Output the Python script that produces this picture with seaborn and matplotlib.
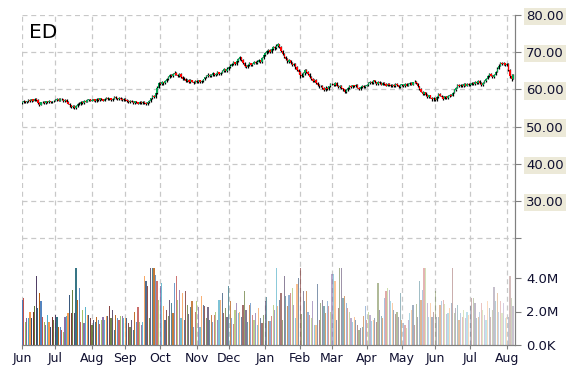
import matplotlib
matplotlib.use('Agg')
import matplotlib.pyplot as plt
import numpy as np
import pandas as pd
import seaborn as sns

# --- data (daily, business days) ---
ticker = 'ED'
start_date = '2014-06-02'
end_date = '2015-08-07'
month_labels = ['Jun', 'Jul', 'Aug', 'Sep', 'Oct', 'Nov', 'Dec', 'Jan',
                'Feb', 'Mar', 'Apr', 'May', 'Jun', 'Jul', 'Aug']
price_ticks = [20, 30, 40, 50, 60, 70, 80]
price_labels = ['', '30.00', '40.00', '50.00', '60.00', '70.00', '80.00']
vol_ticks = [0, 2e6, 4e6]
vol_labels = ['0.0K', '2.0M', '4.0M']

first_open = 56.3
close_jun14 = [56.6, 56.9, 56.5, 56.8, 57.1, 56.9, 57.3, 57.0, 57.5, 57.2, 56.3, 55.9, 56.5,
               56.7, 56.4, 56.8, 56.6, 56.9, 56.5, 56.8, 57.0]
close_jul14 = [57.2, 57.4, 57.0, 57.5, 57.3, 56.9, 57.2, 56.6, 56.2, 55.7, 55.2, 55.5, 54.9,
               55.6, 56.2, 56.0, 56.6, 56.4, 56.9, 56.7, 57.1, 57.3, 57.0]
close_aug14 = [57.0, 57.3, 56.9, 57.4, 57.2, 57.6, 57.3, 57.0, 57.5, 57.8, 57.4, 57.6, 57.2,
               57.5, 57.9, 57.6, 57.3, 57.7, 57.4, 57.2, 57.5]
close_sep14 = [57.2, 56.9, 56.6, 57.0, 56.7, 56.4, 56.8, 56.5, 56.2, 56.6, 56.3, 56.7, 56.4,
               56.1, 56.5, 56.9, 57.6, 58.3, 58.0, 59.0, 60.5, 61.6]
close_oct14 = [61.4, 61.9, 61.6, 62.2, 62.8, 63.3, 63.9, 63.5, 64.1, 64.5, 64.0, 63.6, 64.2,
               63.4, 62.7, 62.9, 62.3, 62.6, 62.0, 62.4, 62.1, 61.8, 62.3]
close_nov14 = [62.0, 62.4, 61.9, 62.3, 62.7, 63.2, 63.6, 64.0, 63.5, 63.9, 64.3, 63.8, 64.2,
               64.6, 64.1, 64.5, 64.9, 65.4, 65.0, 65.6]
close_dec14 = [65.9, 66.4, 66.9, 67.3, 66.8, 67.6, 68.2, 68.6, 67.9, 67.1, 66.3, 66.0, 66.6,
               67.0, 66.5, 66.9, 67.4, 67.0, 67.5, 67.8, 67.3, 68.4, 69.3]
close_jan15 = [69.8, 70.2, 70.6, 70.1, 70.9, 71.4, 71.0, 71.8, 72.1, 71.5, 70.4, 69.6, 68.8,
               68.2, 67.5, 67.8, 67.0, 66.5, 66.9, 65.9, 65.2, 64.6]
close_feb15 = [64.0, 63.6, 64.3, 65.1, 64.7, 64.2, 63.4, 62.8, 62.2, 62.5, 61.8, 61.2, 60.8,
               61.0, 60.4, 59.9, 60.5, 60.2, 60.8, 61.4]
close_mar15 = [61.5, 61.2, 61.7, 61.0, 60.6, 60.9, 60.3, 60.0, 59.4, 59.8, 60.4, 60.9, 60.6,
               61.1, 60.8, 61.2, 60.5, 60.1, 60.6, 60.9, 60.6, 61.0]
close_apr15 = [61.2, 61.7, 62.1, 61.6, 62.4, 61.9, 61.5, 62.0, 61.7, 61.3, 61.8, 61.4, 61.0,
               61.5, 61.2, 60.8, 61.3, 60.9, 61.4, 61.1, 60.7, 61.2]
close_may15 = [61.3, 60.9, 61.4, 61.0, 61.5, 61.8, 61.3, 61.9, 62.1, 61.6, 60.8, 60.1, 59.4,
               58.8, 59.2, 58.5, 58.0, 58.4, 57.8, 57.3, 57.6]
close_jun15 = [57.2, 58.0, 58.8, 58.3, 57.9, 57.5, 58.1, 57.7, 58.2, 58.6, 58.3, 59.1, 59.8,
               60.5, 61.2, 60.8, 61.3, 60.9, 61.4, 61.0, 61.5, 61.2]
close_jul15 = [61.3, 61.8, 61.5, 62.0, 61.6, 62.2, 61.7, 61.2, 61.8, 62.3, 62.9, 63.6, 64.2,
               63.7, 63.3, 64.0, 64.8, 65.6, 66.4, 67.1, 66.7, 67.0, 66.6]
close_aug15 = [66.9, 65.2, 63.6, 62.9, 63.8]

high_jun14 = [56.8, 57.1, 57.0, 57.0, 57.3, 57.3, 57.5, 57.4, 57.8, 57.6, 57.3, 56.5, 56.7,
              57.0, 56.8, 57.0, 56.9, 57.1, 57.0, 57.0, 57.2]
high_jul14 = [57.4, 57.6, 57.6, 57.7, 57.7, 57.5, 57.4, 57.4, 56.8, 56.4, 55.9, 55.8, 55.7,
              55.8, 56.4, 56.5, 56.8, 56.8, 57.1, 57.1, 57.3, 57.5, 57.5]
high_aug14 = [57.3, 57.5, 57.5, 57.6, 57.6, 57.8, 57.8, 57.5, 57.7, 58.0, 58.0, 57.8, 57.8,
              57.7, 58.1, 58.1, 57.8, 57.9, 57.9, 57.6, 57.7]
high_sep14 = [57.7, 57.4, 57.1, 57.2, 57.2, 56.9, 57.0, 57.0, 56.7, 56.8, 56.8, 56.9, 56.9,
              56.6, 56.7, 57.1, 57.8, 58.6, 58.5, 59.3, 60.9, 61.9]
high_oct14 = [62.0, 62.2, 62.1, 62.5, 63.1, 63.6, 64.2, 64.1, 64.4, 64.9, 64.8, 64.2, 64.5,
              64.4, 63.6, 63.2, 63.1, 62.9, 62.8, 62.7, 62.6, 62.3, 62.6]
high_nov14 = [62.5, 62.6, 62.6, 62.5, 62.9, 63.4, 63.9, 64.3, 64.2, 64.1, 64.6, 64.5, 64.4,
              64.9, 64.8, 64.8, 65.2, 65.7, 65.6, 65.9]
high_dec14 = [66.2, 66.7, 67.2, 67.6, 67.5, 67.9, 68.5, 68.9, 68.8, 68.1, 67.3, 66.6, 66.9,
              67.3, 67.2, 67.1, 67.7, 67.6, 67.8, 68.1, 68.0, 68.7, 69.6]
high_jan15 = [70.1, 70.5, 70.9, 70.9, 71.2, 71.7, 71.7, 72.1, 72.6, 72.3, 71.7, 70.7, 69.9,
              69.1, 68.4, 68.1, 68.0, 67.3, 67.2, 67.1, 66.2, 65.5]
high_feb15 = [64.9, 64.3, 64.6, 65.4, 65.4, 65.0, 64.4, 63.7, 63.0, 62.8, 62.7, 62.0, 61.4,
              61.3, 61.2, 60.6, 60.8, 60.7, 61.0, 61.7]
high_mar15 = [61.8, 61.7, 61.9, 61.9, 61.2, 61.1, 61.1, 60.5, 60.2, 60.0, 60.6, 61.1, 61.1,
              61.3, 61.3, 61.4, 61.4, 60.7, 60.8, 61.1, 61.1, 61.2]
high_apr15 = [61.4, 61.9, 62.3, 62.3, 62.6, 62.6, 62.1, 62.2, 62.2, 61.9, 62.0, 62.0, 61.6,
              61.7, 61.7, 61.4, 61.5, 61.5, 61.6, 61.6, 61.3, 61.4]
high_may15 = [61.5, 61.5, 61.6, 61.6, 61.7, 62.0, 62.0, 62.1, 62.4, 62.3, 61.8, 61.0, 60.3,
              59.6, 59.4, 59.4, 58.7, 58.6, 58.6, 58.0, 57.9]
high_jun15 = [57.8, 58.2, 59.1, 59.0, 58.5, 58.1, 58.3, 58.3, 58.4, 58.8, 58.8, 59.3, 60.0,
              60.7, 61.4, 61.4, 61.5, 61.5, 61.6, 61.6, 61.7, 61.7]
high_jul15 = [61.6, 62.0, 62.0, 62.2, 62.2, 62.4, 62.4, 61.9, 62.0, 62.5, 63.1, 63.9, 64.5,
              64.4, 63.9, 64.2, 65.0, 65.9, 66.7, 67.4, 67.4, 67.3, 67.2]
high_aug15 = [67.2, 67.1, 65.5, 64.1, 64.1]

low_jun14 = [56.1, 56.4, 56.3, 56.3, 56.6, 56.7, 56.7, 56.8, 56.9, 57.0, 56.1, 55.6, 55.7,
             56.3, 56.2, 56.2, 56.4, 56.4, 56.3, 56.4, 56.6]
low_jul14 = [56.8, 57.0, 56.8, 56.9, 57.1, 56.6, 56.7, 56.4, 56.0, 55.4, 54.9, 55.0, 54.6,
             54.7, 55.4, 55.8, 55.8, 56.2, 56.2, 56.5, 56.5, 56.9, 56.8]
low_aug14 = [56.8, 56.8, 56.7, 56.7, 57.0, 57.0, 57.1, 56.8, 56.8, 57.3, 57.2, 57.2, 57.0,
             57.0, 57.3, 57.4, 57.1, 57.1, 57.2, 57.0, 57.0]
low_sep14 = [57.0, 56.7, 56.4, 56.4, 56.5, 56.2, 56.2, 56.3, 56.0, 56.0, 56.1, 56.1, 56.2,
             55.9, 55.9, 56.3, 56.7, 57.4, 57.7, 57.8, 58.8, 60.3]
low_oct14 = [61.1, 61.1, 61.3, 61.4, 62.0, 62.5, 63.1, 63.2, 63.3, 63.9, 63.8, 63.3, 63.4,
             63.1, 62.4, 62.5, 62.0, 62.1, 61.8, 61.8, 61.9, 61.5, 61.6]
low_nov14 = [61.7, 61.8, 61.7, 61.7, 62.1, 62.5, 63.0, 63.4, 63.3, 63.3, 63.7, 63.6, 63.6,
             64.0, 63.9, 63.9, 64.3, 64.7, 64.8, 64.8]
low_dec14 = [65.3, 65.7, 66.2, 66.6, 66.5, 66.6, 67.4, 68.0, 67.6, 66.8, 66.0, 65.7, 65.8,
             66.4, 66.2, 66.3, 66.7, 66.8, 66.8, 67.3, 67.1, 67.1, 68.1]
low_jan15 = [69.0, 69.5, 69.9, 69.8, 69.9, 70.6, 70.7, 70.8, 71.5, 71.2, 70.1, 69.3, 68.5,
             67.9, 67.2, 67.2, 66.7, 66.2, 66.3, 65.6, 64.9, 64.1]
low_feb15 = [63.1, 63.3, 63.4, 64.0, 64.4, 63.9, 63.1, 62.5, 61.9, 62.0, 61.5, 60.9, 60.5,
             60.6, 60.1, 59.5, 59.7, 59.9, 59.9, 60.6]
low_mar15 = [61.2, 61.0, 61.0, 60.8, 60.4, 60.4, 60.1, 59.7, 59.0, 59.1, 59.6, 60.2, 60.4,
             60.4, 60.6, 60.6, 60.3, 59.9, 59.9, 60.4, 60.4, 60.4]
low_apr15 = [60.8, 61.0, 61.5, 61.4, 61.4, 61.7, 61.3, 61.3, 61.5, 61.1, 61.1, 61.2, 60.8,
             60.8, 61.0, 60.6, 60.6, 60.7, 60.7, 60.9, 60.5, 60.5]
low_may15 = [61.0, 60.7, 60.7, 60.8, 60.8, 61.3, 61.1, 61.1, 61.7, 61.4, 60.6, 59.9, 59.2,
             58.5, 58.6, 58.3, 57.7, 57.8, 57.6, 57.0, 57.0]
low_jun15 = [56.9, 57.0, 57.8, 58.1, 57.7, 57.2, 57.3, 57.5, 57.5, 58.0, 58.1, 58.1, 58.9,
             59.6, 60.3, 60.6, 60.6, 60.7, 60.7, 60.8, 60.8, 61.0]
low_jul15 = [61.0, 61.1, 61.3, 61.3, 61.4, 61.4, 61.5, 61.0, 61.0, 61.6, 62.1, 62.7, 63.4,
             63.5, 63.1, 63.1, 63.8, 64.6, 65.4, 66.2, 66.5, 66.5, 66.4]
low_aug15 = [66.4, 65.0, 63.1, 62.2, 62.7]

# volume in millions of shares
vol_jun14 = [2.7, 2.8, 1.4, 1.6, 1.6, 2.0, 1.6, 2.0, 2.3, 4.1, 2.2, 3.1, 2.6, 1.7, 1.4, 1.2,
             1.8, 1.4, 1.1, 1.7, 1.5]
vol_jul14 = [1.8, 1.7, 1.1, 1.1, 0.9, 0.8, 1.7, 1.75, 1.9, 3.0, 1.9, 3.3, 1.9, 4.6, 2.7, 3.4,
             1.4, 2.1, 1.3, 2.25, 1.8, 1.8, 1.6]
vol_aug14 = [1.2, 1.5, 1.4, 1.7, 1.5, 1.25, 1.5, 1.7, 1.5, 1.75, 1.75, 2.3, 1.6, 2.1, 0.9, 1.8,
             1.6, 1.5, 1.75, 1.75, 1.6]
vol_sep14 = [1.6, 1.6, 1.3, 1.1, 1.5, 0.9, 2.0, 1.4, 2.25, 1.4, 1.2, 1.4, 4.1, 3.8, 3.5, 1.6,
             4.6, 4.6, 4.6, 4.2, 3.8, 2.7]
vol_oct14 = [3.5, 3.7, 2.3, 1.5, 2.1, 1.75, 2.7, 2.5, 1.9, 3.7, 4.1, 2.7, 3.3, 1.6, 3.1, 1.5,
             3.2, 2.4, 1.85, 2.25, 2.6, 1.1, 2.0]
vol_nov14 = [2.6, 2.25, 1.1, 2.9, 2.4, 2.3, 1.6, 2.25, 1.5, 1.8, 1.4, 1.8, 2.0, 1.5, 2.7, 2.7,
             3.1, 1.9, 2.2, 1.7]
vol_dec14 = [3.5, 2.6, 1.6, 1.25, 2.1, 2.5, 1.9, 2.0, 1.7, 2.4, 3.2, 2.1, 1.4, 2.4, 2.5, 1.8,
             1.5, 1.9, 1.2, 2.2, 1.6, 1.3, 1.8]
vol_jan15 = [2.6, 2.85, 1.45, 1.45, 1.75, 2.4, 2.1, 4.6, 2.3, 2.7, 3.1, 1.5, 4.1, 2.9, 2.3, 3.0,
             3.1, 3.4, 2.4, 1.6, 3.65, 4.0]
vol_feb15 = [4.6, 1.85, 3.2, 2.6, 3.2, 1.95, 1.8, 1.6, 2.6, 1.2, 1.2, 3.65, 1.5, 2.5, 2.7, 2.3,
             1.9, 2.6, 2.3, 2.0]
vol_mar15 = [4.25, 4.25, 3.85, 1.5, 2.2, 4.6, 4.6, 2.8, 2.9, 2.5, 2.2, 2.0, 1.6, 1.4, 1.7, 1.5,
             1.2, 0.9, 1.0, 1.1, 1.75, 2.3]
vol_apr15 = [1.5, 1.95, 1.8, 1.45, 1.5, 1.6, 1.4, 3.7, 2.1, 1.75, 1.6, 2.8, 3.2, 3.4, 3.3, 2.6,
             2.5, 2.1, 1.85, 2.0, 1.7, 3.1]
vol_may15 = [1.5, 1.3, 1.2, 1.0, 1.5, 1.9, 2.1, 2.4, 1.2, 2.45, 1.7, 3.8, 2.7, 3.3, 4.6, 4.6,
             2.5, 1.7, 2.5, 1.7, 2.0]
vol_jun15 = [3.2, 1.7, 1.7, 2.4, 2.65, 2.7, 2.45, 1.85, 1.9, 2.2, 2.5, 4.6, 1.9, 2.2, 2.4, 1.5,
             1.9, 1.7, 2.1, 1.6, 2.0, 1.8]
vol_jul15 = [2.3, 2.8, 2.8, 2.5, 1.6, 1.7, 2.0, 2.5, 2.1, 1.8, 1.5, 2.6, 2.2, 1.7, 2.1, 3.45,
             2.6, 3.1, 2.0, 2.6, 1.9, 2.5, 1.6]
vol_aug15 = [1.7, 1.7, 4.1, 2.8, 2.3]

closes = np.array(close_jun14 + close_jul14 + close_aug14 + close_sep14 + close_oct14
                  + close_nov14 + close_dec14 + close_jan15 + close_feb15 + close_mar15
                  + close_apr15 + close_may15 + close_jun15 + close_jul15 + close_aug15)
highs = np.array(high_jun14 + high_jul14 + high_aug14 + high_sep14 + high_oct14
                 + high_nov14 + high_dec14 + high_jan15 + high_feb15 + high_mar15
                 + high_apr15 + high_may15 + high_jun15 + high_jul15 + high_aug15)
lows = np.array(low_jun14 + low_jul14 + low_aug14 + low_sep14 + low_oct14
                + low_nov14 + low_dec14 + low_jan15 + low_feb15 + low_mar15
                + low_apr15 + low_may15 + low_jun15 + low_jul15 + low_aug15)
volumes = np.array(vol_jun14 + vol_jul14 + vol_aug14 + vol_sep14 + vol_oct14 + vol_nov14
                   + vol_dec14 + vol_jan15 + vol_feb15 + vol_mar15 + vol_apr15 + vol_may15
                   + vol_jun15 + vol_jul15 + vol_aug15) * 1e6

dates = pd.bdate_range(start_date, end_date)
n = min(len(dates), len(closes), len(highs), len(lows), len(volumes))
dates, closes, highs, lows, volumes = dates[:n], closes[:n], highs[:n], lows[:n], volumes[:n]
opens = np.concatenate([[first_open], closes[:-1]])
x = np.arange(n)

month_pos = [i for i in range(n) if i == 0 or dates[i].month != dates[i - 1].month]

# --- style ---
sns.set_style('white')
plt.rcParams['font.family'] = ['DejaVu Sans']

fig = plt.figure(figsize=(5.7, 3.7), dpi=100)
ax = fig.add_axes([22 / 570, 25 / 370, 493 / 570, 330 / 370])
axv = ax.twinx()

# candles: black wick, coloured body on top
up = closes >= opens
candle_colors = np.where(up, '#00a651', '#ff0000')
body = np.where(np.abs(closes - opens) < 0.15, 0.15, closes - opens)
ax.vlines(x, lows, highs, color='black', linewidth=0.9, zorder=3)
ax.bar(x, body, bottom=opens, width=0.85, color=candle_colors, linewidth=0, zorder=4)

# volume bars, cycling office-like palette that fades over time
pal = sns.color_palette(['#4F81BD', '#C0504D', '#9BBB59', '#8064A2', '#4BACC6', '#F79646',
                         '#2C4D75', '#772C2A', '#5F7530', '#4D3B62', '#276A7C', '#B65708'])
alphas = np.linspace(1.0, 0.3, n)
vol_colors = [(*pal[i % len(pal)], alphas[i]) for i in range(n)]
axv.bar(x, volumes, width=0.75, color=vol_colors, linewidth=0)

# axes limits: price 80 at top, 20 at ~y238; volume 0 at bottom, 4M at ~y278
ax.set_xlim(0, n + 0.2)
ax.set_ylim(80 - 330 / 3.72, 80)
axv.set_ylim(0, 330 / 16.75 * 1e6)

ax.yaxis.tick_right()
ax.set_yticks(price_ticks)
ax.set_yticklabels(price_labels)
axv.set_yticks(vol_ticks)
axv.set_yticklabels(vol_labels)
ax.set_xticks(month_pos)
ax.set_xticklabels(month_labels[:len(month_pos)])

for a in (ax, axv):
    for s in ('left', 'top'):
        a.spines[s].set_visible(False)
    a.spines['right'].set_color('#808080')
    a.spines['bottom'].set_color('#808080')
    a.tick_params(axis='y', which='both', right=True, left=False, length=4,
                  color='#808080', labelsize=9.5, labelcolor='#101030', pad=4)
ax.tick_params(axis='x', bottom=True, length=3, color='#808080', labelsize=9,
               labelcolor='#101030', pad=2)

for lbl in ax.get_yticklabels():
    if lbl.get_text():
        lbl.set_bbox(dict(facecolor='#ECE9D8', edgecolor='none', pad=1.5))

ax.grid(True, axis='both', color='#c8c8c8', linestyle=(0, (4, 3)), linewidth=0.9)
ax.set_axisbelow(True)
axv.grid(False)

ax.text(0.014, 0.975, ticker, transform=ax.transAxes, fontsize=14.5, ha='left', va='top',
        color='black')

fig.savefig('out.png', dpi=100)
